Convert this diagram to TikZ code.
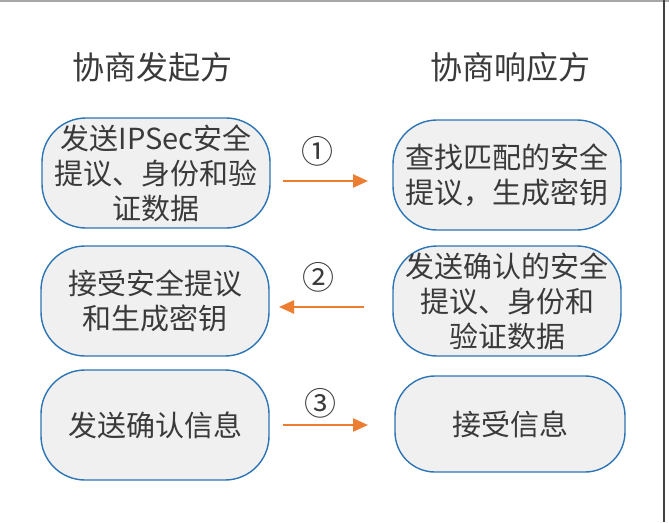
\documentclass[tikz,border=0pt]{standalone}
\usepackage{fontspec}
\newfontfamily\cjk{Noto Sans CJK SC}
\usetikzlibrary{arrows.meta}
\definecolor{boxfill}{HTML}{F0F0F0}
\definecolor{boxline}{HTML}{2E75B6}
\definecolor{arrowc}{HTML}{ED7D31}
\definecolor{txt}{HTML}{3A3A3A}
\tikzset{
  stepbox/.style={draw=boxline, line width=1.4pt, fill=boxfill, rounded corners=44pt,
    minimum width=228pt, minimum height=110pt, inner sep=0pt, align=center,
    text=txt, font=\cjk\fontsize{29}{35}\selectfont},
  title/.style={text=txt, font=\cjk\fontsize{32}{36}\selectfont, inner sep=0pt},
  num/.style={text=txt, font=\cjk\fontsize{32}{34}\selectfont, inner sep=0pt},
  flow/.style={draw=arrowc, line width=2.4pt, -{Triangle[length=15pt,width=13pt]}}
}
\begin{document}
\begin{tikzpicture}[x=1pt,y=-1pt]
\useasboundingbox (0,0) rectangle (669,522);
\fill[white] (0,0) rectangle (669,522);
\draw[color=gray!70, line width=1.5pt] (0,0.75) -- (669,0.75);
\draw[color=black!75, line width=2pt] (664,0) -- (664,522);

\node[title] (t1) at (152,67) {协商发起方};
\node[title] (t2) at (510,67) {协商响应方};

\node[stepbox] (l1) at (156,173) {发送IPSec安全\\提议、身份和验\\证数据};
\node[stepbox] (r1) at (507,175) {查找匹配的安全\\提议，生成密钥};
\node[stepbox] (l2) at (155,301) {接受安全提议\\和生成密钥};
\node[stepbox] (r2) at (507,301) {发送确认的安全\\提议、身份和\\验证数据};
\node[stepbox] (l3) at (155,425) {发送确认信息};
\node[stepbox, minimum height=96pt, minimum width=230pt, rounded corners=40pt] (r3) at (510,424) {接受信息};

\coordinate (a1s) at (283,181);
\coordinate (a1e) at (368,181);
\coordinate (a2s) at (364,307);
\coordinate (a2e) at (279,307);
\coordinate (a3s) at (283,425);
\coordinate (a3e) at (368,425);
\draw[flow] (a1s) -- (a1e);
\draw[flow] (a2s) -- (a2e);
\draw[flow] (a3s) -- (a3e);

\node[num] (n1) at (317,151) {①};
\node[num] (n2) at (318,277) {②};
\node[num] (n3) at (320,403) {③};
\end{tikzpicture}
\end{document}
